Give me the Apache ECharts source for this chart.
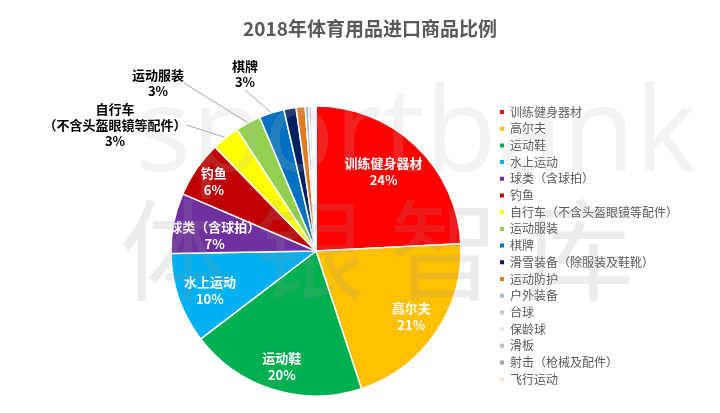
<!DOCTYPE html>
<html>
<head>
<meta charset="utf-8">
<script src="https://cdn.jsdelivr.net/npm/echarts@6/dist/echarts.min.js"></script>
<style>
html,body{margin:0;padding:0;background:#fff;}
#chart{width:720px;height:413px;}
</style>
</head>
<body>
<div id="chart"></div>
<script>
var categories = ['训练健身器材','高尔夫','运动鞋','水上运动','球类（含球拍）','钓鱼','自行车（不含头盔眼镜等配件）','运动服装','棋牌','滑雪装备（除服装及鞋靴）','运动防护','户外装备','台球','保龄球','滑板','射击（枪械及配件）','飞行运动'];
var labelNames = ['训练健身器材','高尔夫','运动鞋','水上运动','球类（含球拍）','钓鱼','自行车\n（不含头盔眼镜等配件）','运动服装','棋牌','','','','','','','',''];
var values = [24.2,20.7,19.7,10.1,6.7,6.3,3.1,2.8,2.8,1.35,1.0,0.4,0.3,0.2,0.15,0.1,0.05];
var colors = ['#FF0000','#FFC000','#00B050','#00B0F0','#7030A0','#C00000','#FFFF00','#92D050','#0070C0','#002060','#E07B20','#A9B9CC','#C9C9C9','#E7E6E6','#BFBFBF','#A5A5A5','#F4E6CF'];
var insideIdx = [0,1,2,3,4,5];
var outsideIdx = [6,7,8];

var outsidePos = {6:[115,125],7:[158,83],8:[245,74]};
var insideShift = {0:[-12,4],2:[0,5],3:[3,2],4:[12,7],5:[-7,-4]};

var chart = echarts.init(document.getElementById('chart'));
var pieData = categories.map(function(n,i){
  var d = {name:n, value:values[i], itemStyle:{color:colors[i]}};
  if (outsideIdx.indexOf(i) >= 0) {
    d.label = {show:true};
    d.labelLine = {show:true};
  }
  return d;
});
var labelData = categories.map(function(n,i){
  return {name:n, value:values[i], label:{show: insideIdx.indexOf(i) >= 0}};
});
function fmt(p){ return labelNames[p.dataIndex] + '\n' + Math.round(p.percent) + '%'; }

chart.setOption({
  animation:false,
  title:{text:'2018年体育用品进口商品比例', left:365, textAlign:'center', top:14,
    textStyle:{fontSize:19, fontWeight:'bold', color:'#595959', fontFamily:'Noto Sans CJK SC'}},
  legend:{orient:'vertical', left:493, top:100, itemWidth:6, itemHeight:6, itemGap:2.7,
    icon:'rect', data:categories,
    textStyle:{fontSize:12, color:'#595959', lineHeight:14, padding:[0,0,0,0], fontFamily:'Noto Sans CJK SC'}},
  graphic:[
    {type:'text', left:135, top:78, z:100, silent:true,
      style:{text:'sportbank', fontSize:118, fontFamily:'Open Sans', fill:'rgba(190,190,190,0.18)'}},
    {type:'text', left:120, top:195, z:100, silent:true,
      style:{text:'体 银 智 库', fontSize:110, fontFamily:'Noto Sans CJK SC', fill:'rgba(150,150,150,0.18)'}}
  ],
  series:[
    {type:'pie', center:[316,251], radius:145, startAngle:90, clockwise:true,
      avoidLabelOverlap:false, silent:true,
      itemStyle:{borderColor:'#fff', borderWidth:1.5},
      label:{show:false, position:'outside', formatter:fmt, color:'#000', fontSize:13,
        fontWeight:'bold', lineHeight:16, align:'center', fontFamily:'Noto Sans CJK SC'},
      labelLine:{show:false, length:10, length2:0, lineStyle:{color:'#A6A6A6', width:1}},
      labelLayout:function(p){
        var pos = outsidePos[p.dataIndex];
        if (pos) return {x:pos[0], y:pos[1], align:'center', verticalAlign:'middle'};
        return {};
      },
      data:pieData},
    {type:'pie', center:[316,251], radius:225, startAngle:90, clockwise:true,
      avoidLabelOverlap:false, silent:true, legendHoverLink:false,
      itemStyle:{color:'rgba(0,0,0,0)', borderWidth:0},
      label:{show:false, position:'inside', formatter:fmt, color:'#fff', fontSize:13,
        fontWeight:'bold', lineHeight:17, fontFamily:'Noto Sans CJK SC'},
      labelLine:{show:false},
      labelLayout:function(p){
        var s = insideShift[p.dataIndex];
        if (s) return {dx:s[0], dy:s[1]};
        return {};
      },
      data:labelData}
  ]
});
</script>
</body>
</html>
